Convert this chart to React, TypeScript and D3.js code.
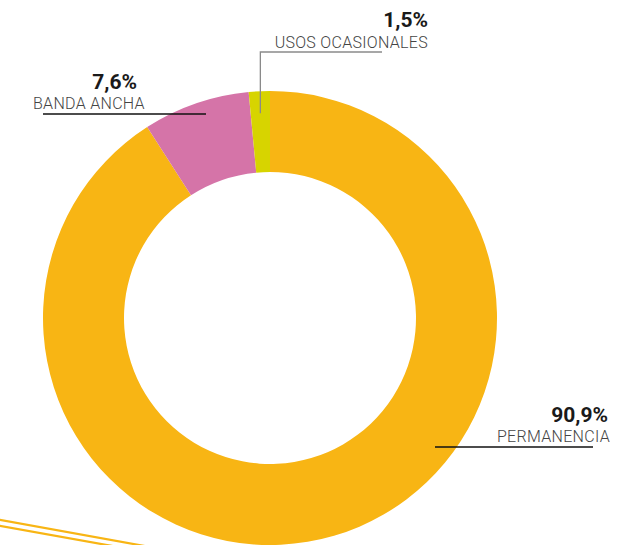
import React from 'react';
import * as d3 from 'd3';

// data
const categories = ['PERMANENCIA', 'BANDA ANCHA', 'USOS OCASIONALES'];
const values = [90.9, 7.6, 1.5];
const valueLabels = ['90,9%', '7,6%', '1,5%'];
const colors = ['#F8B514', '#D574A8', '#D7D400'];

const W = 617;
const H = 545;
const cx = 270;
const cy = 318;
const outerR = 227;
const innerR = 146;

// label layout: text anchor point, leader line
const labelPos = [
  { tx: 610, ty: 442, px: 608, py: 422, lx1: 435, lx2: 593, ly: 447 },
  { tx: 33, ty: 109, px: 137, py: 89, lx1: 43, lx2: 206, ly: 114 },
  { tx: 428, ty: 48, px: 428, py: 27, lx1: 260, lx2: 382, ly: 52 },
];

export default function App() {
  const pie = d3.pie<number>().sort(null).value((d) => d);
  const arcs = pie(values);
  const arc = d3.arc<d3.PieArcDatum<number>>().innerRadius(innerR).outerRadius(outerR);

  return (
    <svg width={W} height={H} style={{ position: 'absolute', left: 0, top: 0 }}>
      {/* decorative strokes bottom-left */}
      <g stroke={colors[0]} strokeWidth={2.2} fill="none">
        <path d={`M-5,519L150,547`} />
        <path d={`M-5,525L118,547`} />
      </g>
      <g transform={`translate(${cx}, ${cy})`}>
        {arcs.map((a, i) => (
          <path key={categories[i]} d={arc(a) || ''} fill={colors[i]} />
        ))}
      </g>
      {arcs.map((a, i) => {
        const p = labelPos[i];
        const anchor = i === 1 ? 'start' : 'end';
        const mid = (a.startAngle + a.endAngle) / 2;
        const vx = cx + Math.sin(mid) * (outerR - 22);
        const vy = cy - Math.cos(mid) * (outerR - 22);
        const isSmall = i === 2;
        return (
          <g key={'lbl' + i}>
            {isSmall ? (
              <path
                d={`M${p.lx2},${p.ly}L${vx},${p.ly}L${vx},${vy}`}
                stroke="#8a8a8a"
                strokeWidth={1.3}
                fill="none"
              />
            ) : (
              <line x1={p.lx1} x2={p.lx2} y1={p.ly} y2={p.ly} stroke="#111" strokeWidth={1.3} />
            )}
            <text
              x={p.px}
              y={p.py}
              textAnchor="end"
              fontFamily="Roboto, sans-serif"
              fontWeight={700}
              fontSize={21}
              fill="#1a1a1a"
            >
              {valueLabels[i]}
            </text>
            <text
              x={p.tx}
              y={p.ty}
              textAnchor={anchor}
              fontFamily="Roboto, sans-serif"
              fontWeight={300}
              fontSize={16}
              letterSpacing={0.3}
              fill="#444"
            >
              {categories[i]}
            </text>
          </g>
        );
      })}
    </svg>
  );
}
